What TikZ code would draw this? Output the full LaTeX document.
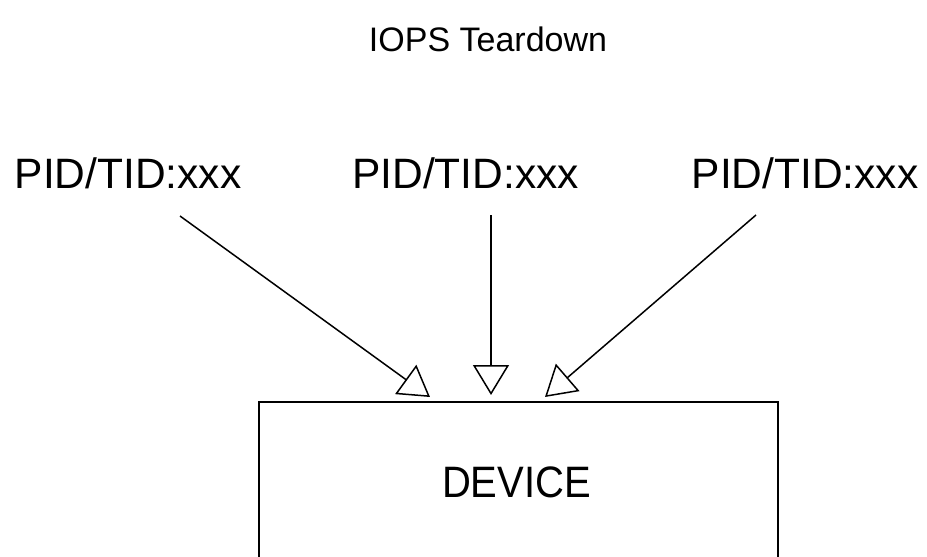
\documentclass[tikz,border=0pt]{standalone}
\usepackage{fontspec}
\setmainfont{Liberation Sans}
\usetikzlibrary{arrows.meta}
\begin{document}
\begin{tikzpicture}[x=1pt,y=-1pt,
  lbl/.style={inner sep=0pt, anchor=base, font=\fontsize{42.5}{48}\selectfont},
  ttl/.style={inner sep=0pt, anchor=base, font=\fontsize{34}{40}\selectfont},
  conn/.style={line width=1.5pt, -{Triangle[open, length=30pt, width=36pt, fill=white]}},
  devbox/.style={draw, line width=1.6pt, minimum width=519pt, minimum height=260pt, inner sep=0pt}
]
\useasboundingbox (0,0) rectangle (927,557);
\clip (0,0) rectangle (927,557);
\node[ttl] (title) at (488,51) {IOPS Teardown};
\node[lbl] (l1) at (128,188) {PID/TID:xxx};
\node[lbl] (l2) at (465.5,188) {PID/TID:xxx};
\node[lbl] (l3) at (805,188) {PID/TID:xxx};
\node[devbox, anchor=north west] (dev) at (258,401) {};
\node[lbl, font=\fontsize{40}{48}\selectfont] (devtxt) at (516.5,497) {\scalebox{1}[1.1]{DEVICE}};
\coordinate (s1) at (180,216);
\coordinate (s2) at (491,215);
\coordinate (s3) at (756,215);
\coordinate (t1) at (430,397);
\coordinate (t2) at (491,395);
\coordinate (t3) at (545,397);
\draw[conn] (s1) -- (t1);
\draw[conn] (s2) -- (t2);
\draw[conn] (s3) -- (t3);
\end{tikzpicture}
\end{document}
